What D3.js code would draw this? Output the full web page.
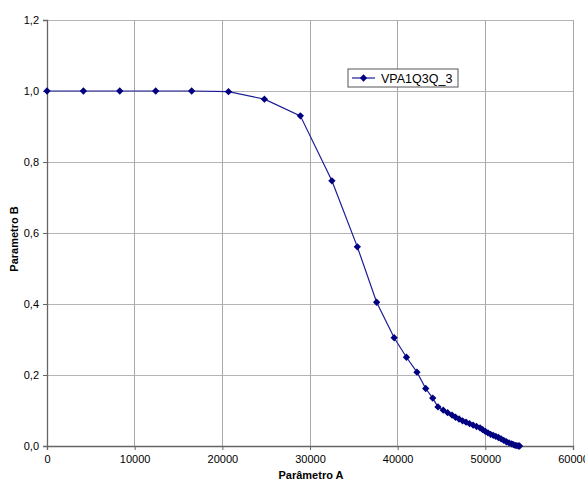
<!DOCTYPE html>
<html>
<head>
<meta charset="utf-8">
<script src="https://cdn.jsdelivr.net/npm/d3@7"></script>
<style>
  body { margin: 0; background: #fff; }
  svg { display: block; font-family: "Liberation Sans", Arial, sans-serif; }
</style>
</head>
<body>
<svg id="chart"></svg>
<script>
// valores
const seriesName = "VPA1Q3Q_3";
const paramA = [0, 4150, 8300, 12400, 16500, 20700, 24800, 28900, 32500, 35400, 37600, 39600, 41000, 42200, 43200,
  44000, 44600, 45200, 45700, 46200, 46600, 47000, 47400, 47800, 48200, 48600, 49000, 49400, 49700, 50000,
  50300, 50600, 50900, 51200, 51500, 51800, 52100, 52400, 52700, 53000, 53200, 53400, 53600, 53800, 53900];
const paramB = [1.0, 1.0, 1.0, 1.0, 1.0, 0.998, 0.977, 0.930, 0.747, 0.561, 0.405, 0.305, 0.250, 0.208, 0.162,
  0.135, 0.110, 0.101, 0.094, 0.087, 0.081, 0.076, 0.071, 0.067, 0.063, 0.059, 0.055, 0.051, 0.046, 0.041,
  0.037, 0.033, 0.030, 0.027, 0.024, 0.020, 0.016, 0.012, 0.009, 0.006, 0.004, 0.002, 0.001, 0.000, 0.000];
const xTicks = [0, 10000, 20000, 30000, 40000, 50000, 60000];
const yTicks = [0, 0.2, 0.4, 0.6, 0.8, 1.0, 1.2];

const W = 585, H = 480;
const margin = { top: 20, right: 12, bottom: 34, left: 47 };
const width = W - margin.left - margin.right;
const height = H - margin.top - margin.bottom;

const svg = d3.select("#chart").attr("width", W).attr("height", H);
const g = svg.append("g").attr("transform", `translate(${margin.left},${margin.top})`);

const x = d3.scaleLinear().domain([0, 60000]).range([0, width]);
const y = d3.scaleLinear().domain([0, 1.2]).range([height, 0]);

const data = paramA.map((a, i) => ({ a, b: paramB[i] }));

// grade
g.append("g").selectAll("line").data(yTicks.slice(1)).enter().append("line")
  .attr("x1", 0).attr("x2", width)
  .attr("y1", d => y(d)).attr("y2", d => y(d))
  .attr("stroke", "#b4b4b4").attr("stroke-width", 1).attr("shape-rendering", "crispEdges");
g.append("g").selectAll("line").data(xTicks.slice(1)).enter().append("line")
  .attr("x1", d => x(d)).attr("x2", d => x(d))
  .attr("y1", 0).attr("y2", height)
  .attr("stroke", "#a8a8a8").attr("stroke-width", 1).attr("shape-rendering", "crispEdges");

// eixos
const fmtY = d => d3.format(".1f")(d).replace(".", ",");
const yAxis = g.append("g")
  .call(d3.axisLeft(y).tickValues(yTicks).tickFormat(fmtY).tickSize(4).tickPadding(4));
const xAxis = g.append("g").attr("transform", `translate(0,${height})`)
  .call(d3.axisBottom(x).tickValues(xTicks).tickFormat(d3.format("d")).tickSize(4).tickPadding(5));
[xAxis, yAxis].forEach(ax => {
  ax.select(".domain").attr("stroke", "#666").attr("stroke-width", 1.3);
  ax.selectAll(".tick line").attr("stroke", "#666");
  ax.selectAll("text").attr("fill", "#000").style("font-size", "11px");
});

// linha e marcadores
const lineColor = "#000080";
g.append("path").datum(data)
  .attr("fill", "none").attr("stroke", "#1c1c96").attr("stroke-width", 1.2)
  .attr("d", d3.line().x(d => x(d.a)).y(d => y(d.b)));

const diamond = d3.symbol().type(d3.symbolDiamond2).size(34);
g.selectAll(".pt").data(data).enter().append("path")
  .attr("class", "pt")
  .attr("transform", d => `translate(${x(d.a)},${y(d.b)})`)
  .attr("d", diamond)
  .attr("fill", lineColor);

// títulos dos eixos
svg.append("text")
  .attr("x", margin.left + width / 2 + 1).attr("y", 479)
  .attr("text-anchor", "middle").style("font-size", "11px").style("font-weight", "bold")
  .text("Parâmetro A");
svg.append("text")
  .attr("transform", `translate(18,${margin.top + height / 2 + 6}) rotate(-90)`)
  .attr("text-anchor", "middle").style("font-size", "11px").style("font-weight", "bold")
  .text("Parametro B");

// legenda
const leg = svg.append("g").attr("transform", "translate(348,69)");
leg.append("rect").attr("width", 110).attr("height", 18)
  .attr("fill", "#fff").attr("stroke", "#555").attr("stroke-width", 1);
leg.append("line").attr("x1", 4).attr("x2", 27).attr("y1", 9).attr("y2", 9)
  .attr("stroke", "#1c1c96").attr("stroke-width", 1.2);
leg.append("path").attr("transform", "translate(15.5,9)").attr("d", diamond).attr("fill", lineColor);
leg.append("text").attr("x", 33).attr("y", 13.5).style("font-size", "12.5px").text(seriesName);
</script>
</body>
</html>
